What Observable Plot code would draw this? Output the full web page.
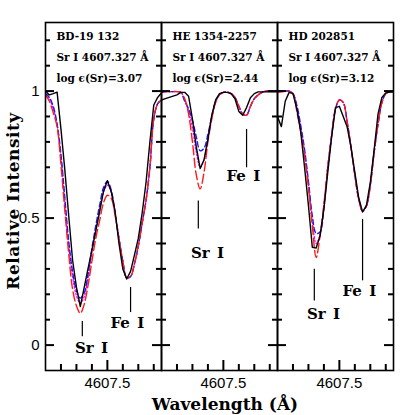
<!DOCTYPE html>
<html><head><meta charset="utf-8">
<script src="https://cdn.jsdelivr.net/npm/d3@7"></script>
<script src="https://cdn.jsdelivr.net/npm/@observablehq/plot@0.6"></script>
<style>body{margin:0;background:#fff}</style>
</head><body><div id="chart"></div>
<script>
// ---------- data ----------
const stars = ["BD-19 132", "HE 1354-2257", "HD 202851"];
const srLabel = "Sr I 4607.327 Å";
const abund = ["3.07", "2.44", "3.12"];

const wave = [4607.100, 4607.125, 4607.150, 4607.175, 4607.200, 4607.225, 4607.250, 4607.275,
  4607.300, 4607.325, 4607.350, 4607.375, 4607.400, 4607.425, 4607.450, 4607.475, 4607.500,
  4607.525, 4607.550, 4607.575, 4607.600, 4607.625, 4607.650, 4607.675, 4607.700, 4607.725,
  4607.750, 4607.775, 4607.800, 4607.825, 4607.850];

// observed (black solid)
const obs1 = [1.00, 0.985, 0.99, 0.996, 0.85, 0.69, 0.51, 0.335, 0.228, 0.152, 0.226, 0.301, 0.374, 0.449, 0.525, 0.606, 0.647, 0.605, 0.526, 0.40, 0.30, 0.26, 0.29, 0.354, 0.42, 0.52, 0.64, 0.80, 0.945, 0.975, 0.993];
const obs2 = [0.965, 0.97, 0.975, 0.98, 0.985, 0.995, 0.995, 0.98, 0.89, 0.78, 0.695, 0.73, 0.81, 0.905, 0.965, 0.99, 0.995, 0.995, 0.99, 0.97, 0.92, 0.905, 0.935, 0.974, 0.99, 0.997, 0.997, 0.997, 0.997, 0.997, 0.997];
const obs3 = [0.90, 0.86, 0.96, 0.995, 0.99, 0.93, 0.84, 0.70, 0.55, 0.385, 0.382, 0.43, 0.535, 0.68, 0.82, 0.935, 0.94, 0.90, 0.86, 0.78, 0.68, 0.58, 0.524, 0.55, 0.64, 0.77, 0.91, 0.975, 0.993, 0.996, 0.996];

// synthetic, higher Sr (red long dash)
const hi1 = [0.985, 0.96, 0.915, 0.86, 0.71, 0.53, 0.36, 0.22, 0.155, 0.125, 0.16, 0.235, 0.33, 0.42, 0.49, 0.56, 0.59, 0.578, 0.51, 0.42, 0.33, 0.265, 0.27, 0.32, 0.39, 0.48, 0.57, 0.70, 0.89, 0.95, 0.965];
const hi2 = [0.995, 0.998, 0.998, 0.998, 0.998, 0.995, 0.97, 0.91, 0.80, 0.67, 0.615, 0.68, 0.80, 0.89, 0.955, 0.985, 0.995, 0.996, 0.99, 0.975, 0.94, 0.91, 0.905, 0.94, 0.97, 0.985, 0.995, 1.0, 1.0, 1.0, 1.0];
const hi3 = [0.995, 0.997, 1.0, 1.0, 0.99, 0.92, 0.84, 0.745, 0.62, 0.47, 0.345, 0.43, 0.554, 0.70, 0.825, 0.93, 0.965, 0.955, 0.88, 0.78, 0.67, 0.575, 0.528, 0.548, 0.63, 0.76, 0.87, 0.955, 0.99, 0.997, 1.0];

// synthetic, lower Sr (blue short dash)
const lo1 = [0.99, 0.975, 0.94, 0.87, 0.75, 0.58, 0.41, 0.29, 0.215, 0.185, 0.205, 0.28, 0.38, 0.47, 0.55, 0.62, 0.645, 0.61, 0.52, 0.42, 0.33, 0.265, 0.27, 0.32, 0.39, 0.48, 0.57, 0.70, 0.89, 0.95, 0.965];
const lo2 = [0.995, 0.998, 0.998, 0.998, 0.998, 0.995, 0.96, 0.93, 0.885, 0.82, 0.765, 0.775, 0.83, 0.90, 0.96, 0.985, 0.995, 0.996, 0.99, 0.975, 0.94, 0.91, 0.905, 0.94, 0.97, 0.985, 0.995, 1.0, 1.0, 1.0, 1.0];
const lo3 = [1.0, 1.0, 1.0, 1.0, 0.99, 0.945, 0.865, 0.77, 0.645, 0.51, 0.44, 0.445, 0.545, 0.70, 0.825, 0.93, 0.965, 0.955, 0.88, 0.78, 0.67, 0.575, 0.528, 0.548, 0.63, 0.76, 0.87, 0.955, 0.99, 0.997, 1.0];

// synthetic, best fit (magenta dotted)
const fit1 = [0.988, 0.97, 0.93, 0.865, 0.735, 0.56, 0.39, 0.27, 0.195, 0.165, 0.19, 0.265, 0.365, 0.455, 0.535, 0.60, 0.63, 0.60, 0.515, 0.42, 0.33, 0.265, 0.27, 0.32, 0.39, 0.48, 0.57, 0.70, 0.89, 0.95, 0.965];
const fit2 = [0.995, 0.998, 0.998, 0.998, 0.998, 0.996, 0.965, 0.92, 0.855, 0.76, 0.70, 0.73, 0.81, 0.895, 0.958, 0.985, 0.995, 0.996, 0.99, 0.975, 0.94, 0.91, 0.905, 0.94, 0.97, 0.985, 0.995, 1.0, 1.0, 1.0, 1.0];
const fit3 = [1.0, 1.0, 1.0, 1.0, 0.99, 0.935, 0.855, 0.76, 0.635, 0.49, 0.40, 0.435, 0.55, 0.70, 0.825, 0.93, 0.965, 0.955, 0.88, 0.78, 0.67, 0.575, 0.528, 0.548, 0.63, 0.76, 0.87, 0.955, 0.99, 0.997, 1.0];

// axis ticks
const xMinorTicks = [4607.2, 4607.3, 4607.4, 4607.6, 4607.7, 4607.8];
const xMajorTicks = [4607.5];
const yMinorTicks = [0.1, 0.2, 0.3, 0.4, 0.6, 0.7, 0.8, 0.9, 1.1, 1.2];
const yMajorTicks = [0, 0.5, 1];

// line identifications
const lineWaves = {"Sr I": 4607.338, "Fe I": 4607.650};
const markerTop = [[0.093, 0.227], [0.567, 0.849], [0.299, 0.495]];   // [Sr, Fe]
const markerBottom = [[0.033, 0.128], [0.457, 0.698], [0.174, 0.253]];
const labelY = [[-0.014, 0.085], [0.363, 0.666], [0.122, 0.214]];
const labelStart = {"Sr I": 4607.29, "Fe I": 4607.52};

// ---------- build tables ----------
const seriesSets = [
  {key: "fit", values: [fit1, fit2, fit3]},
  {key: "lo", values: [lo1, lo2, lo3]},
  {key: "hi", values: [hi1, hi2, hi3]},
  {key: "obs", values: [obs1, obs2, obs3]}
];
const rows = {};
for (const s of seriesSets) {
  rows[s.key] = [];
  stars.forEach((star, i) => wave.forEach((w, j) => rows[s.key].push({star, wave: w, value: s.values[i][j]})));
}
const headers = stars.map((star, i) => ({star, text: `${star}\n${srLabel}\nlog ϵ(Sr)=${abund[i]}`}));
const markers = [], idLabels = [];
stars.forEach((star, i) => {
  ["Sr I", "Fe I"].forEach((name, k) => {
    markers.push({star, wave: lineWaves[name], y1: markerBottom[i][k], y2: markerTop[i][k]});
    idLabels.push({star, wave: labelStart[name], y: labelY[i][k], text: name.replace(" ", "\u2002")});
  });
});

const W = 415, H = 415, mL = 45, mR = 22, mT = 22, mB = 45;
const xDomain = [4607.1, 4607.85], yDomain = [-0.1, 1.27];
const facetW = (W - mL - mR) / stars.length, frameH = H - mT - mB;
const xPerPx = (xDomain[1] - xDomain[0]) / facetW, yPerPx = (yDomain[1] - yDomain[0]) / frameH;

// inward tick segments for every panel, built from the tick arrays
const xTickRows = [], yTickRows = [];
stars.forEach(star => {
  [[xMinorTicks, 6], [xMajorTicks, 10]].forEach(([ticks, len]) => ticks.forEach(t =>
    xTickRows.push({star, wave: t, y1: yDomain[0], y2: yDomain[0] + len * yPerPx})));
  [[yMinorTicks, 5], [yMajorTicks, 9]].forEach(([ticks, len]) => ticks.forEach(t => {
    yTickRows.push({star, value: t, x1: xDomain[0], x2: xDomain[0] + len * xPerPx});
    yTickRows.push({star, value: t, x1: xDomain[1], x2: xDomain[1] - len * xPerPx});
  }));
});

const serif = "'DejaVu Serif', serif";
const lineOpts = {fx: "star", x: "wave", y: "value", clip: true};

const chart = Plot.plot({
  width: W, height: H,
  marginLeft: mL, marginRight: mR, marginTop: mT, marginBottom: mB,
  style: {background: "#fff", fontFamily: "'Liberation Sans', Arial, sans-serif", fontSize: "15px", color: "#000"},
  fx: {domain: stars, padding: 0, axis: null, label: null},
  x: {domain: xDomain, label: null},
  y: {domain: yDomain, label: null},
  marks: [
    // tick labels
    Plot.axisX({ticks: xMajorTicks, tickSize: 0, tickPadding: 7, tickFormat: d3.format(".1f")}),
    Plot.axisY({anchor: "left", ticks: yMajorTicks, tickSize: 0, tickPadding: 6, tickFormat: d => String(d)}),
    // spectra
    Plot.line(rows.fit, {...lineOpts, stroke: "#ff00ff", strokeWidth: 1.3, strokeDasharray: "1.5,2", curve: "catmull-rom"}),
    Plot.line(rows.lo, {...lineOpts, stroke: "#1a1aff", strokeWidth: 1.4, strokeDasharray: "5,3", curve: "catmull-rom"}),
    Plot.line(rows.hi, {...lineOpts, stroke: "#ff1a1a", strokeWidth: 1.4, strokeDasharray: "9,3.5", curve: "catmull-rom"}),
    Plot.line(rows.obs, {...lineOpts, stroke: "#000", strokeWidth: 1.4}),
    // line identifications
    Plot.ruleX(markers, {fx: "star", x: "wave", y1: "y1", y2: "y2", stroke: "#000", strokeWidth: 1.2}),
    Plot.text(idLabels, {fx: "star", x: "wave", y: "y", text: "text", textAnchor: "start", fontFamily: serif, fontWeight: "bold", fontSize: 15, fill: "#000"}),
    Plot.text(headers, {fx: "star", text: "text", frameAnchor: "top-left", dx: 11, dy: 3, lineAnchor: "top", lineHeight: 1.97, textAnchor: "start", fontFamily: serif, fontWeight: "bold", fontSize: 10.5, fill: "#000", style: "letter-spacing:1.1px"}),
    Plot.frame({stroke: "#000", strokeWidth: 1.6}),
    // inward ticks, drawn last
    Plot.ruleX(xTickRows, {fx: "star", x: "wave", y1: "y1", y2: "y2", stroke: "#000", strokeWidth: 2}),
    Plot.ruleY(yTickRows, {fx: "star", y: "value", x1: "x1", x2: "x2", stroke: "#000", strokeWidth: 2})
  ]
});

const svg = d3.select(chart);
svg.append("text")
  .attr("x", 225).attr("y", 410)
  .attr("text-anchor", "middle")
  .attr("font-family", serif).attr("font-weight", "bold").attr("font-size", 17)
  .attr("fill", "#000")
  .text("Wavelength (Å)");
svg.append("text")
  .attr("transform", "translate(19,201) rotate(-90)")
  .attr("text-anchor", "middle")
  .attr("font-family", serif).attr("font-weight", "bold").attr("font-size", 17)
  .attr("letter-spacing", 0.5)
  .attr("fill", "#000")
  .text("Relative Intensity");

document.getElementById("chart").append(chart);
</script>
</body></html>
